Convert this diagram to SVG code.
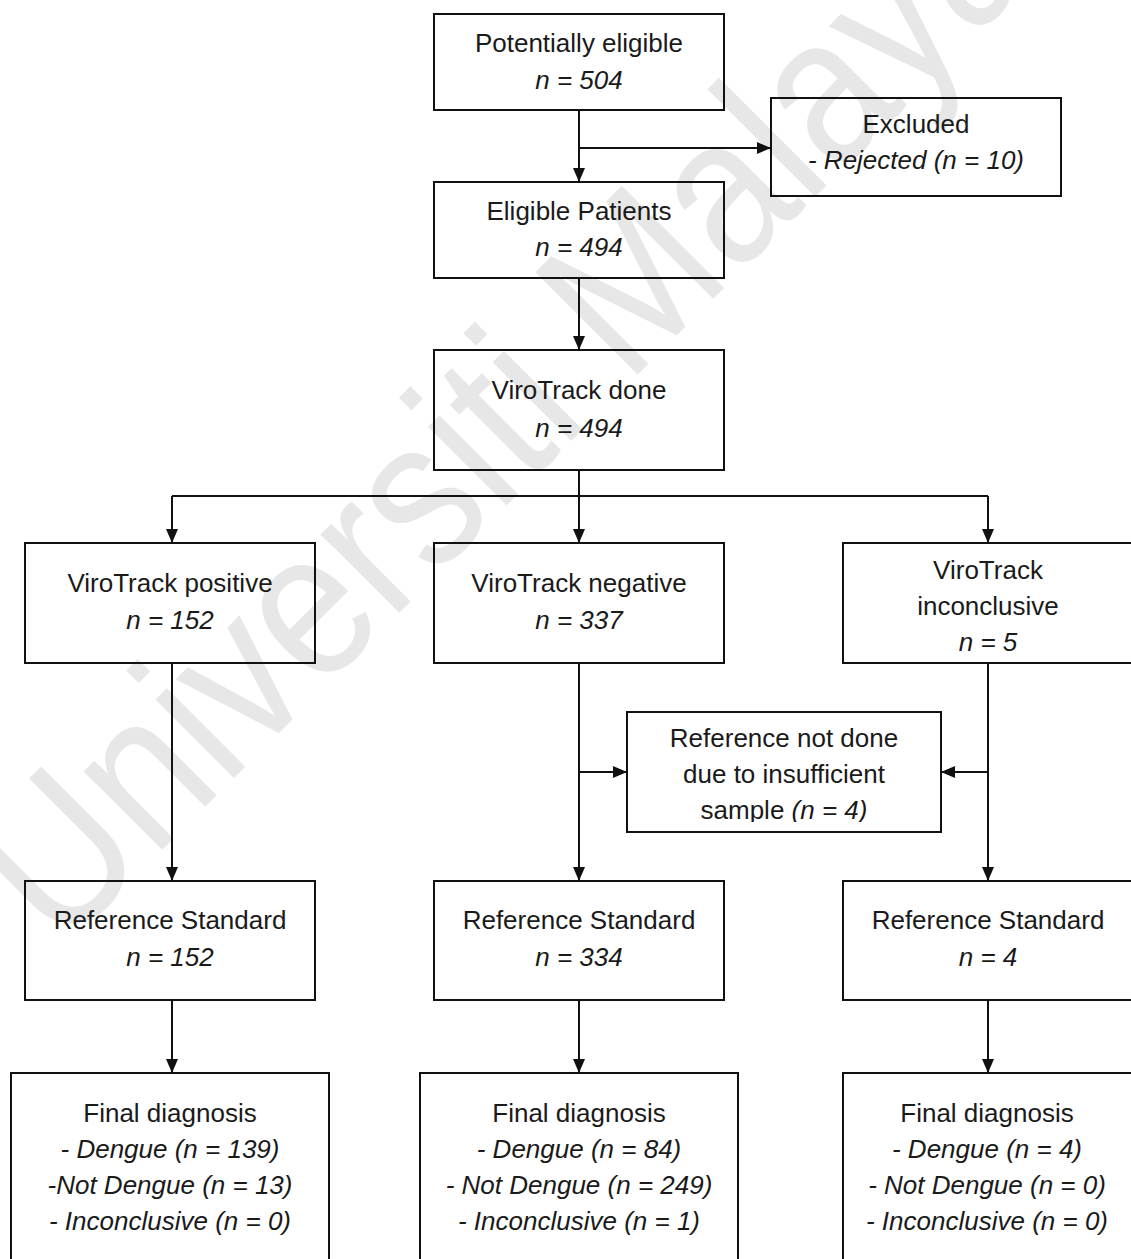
<svg xmlns="http://www.w3.org/2000/svg" width="1131" height="1259" viewBox="0 0 1131 1259">
<style>
.box{fill:none;stroke:#111;stroke-width:2}
.t{font-family:"Liberation Sans",Arial,sans-serif;font-size:26px;fill:#1a1a1a;text-anchor:middle}
.i{font-style:italic}
.c{stroke:#111;stroke-width:2;fill:none}
.wm{font-family:"Liberation Sans",Arial,sans-serif;font-size:210px;fill:#e7e7e7}
</style>
<defs>
<marker id="ah" markerUnits="userSpaceOnUse" markerWidth="14" markerHeight="12" refX="14" refY="6" orient="auto">
<path d="M0,0 L14,6 L0,12 z" fill="#111"/>
</marker>
<clipPath id="clipRef"><rect x="627" y="712" width="314" height="110"/></clipPath>
</defs>
<rect width="1131" height="1259" fill="#fff"/>
<text class="wm" x="0" y="0" transform="translate(60 952) rotate(-45) scale(0.87 1)">Universiti Malaya</text>

<g id="connectors">
<path class="c" d="M579,110 V182" marker-end="url(#ah)"/>
<path class="c" d="M579,148 H771" marker-end="url(#ah)"/>
<path class="c" d="M579,278 V350" marker-end="url(#ah)"/>
<path class="c" d="M579,470 V543" marker-end="url(#ah)"/>
<path class="c" d="M172,496 H988"/>
<path class="c" d="M172,496 V543" marker-end="url(#ah)"/>
<path class="c" d="M988,496 V543" marker-end="url(#ah)"/>
<path class="c" d="M172,663 V881" marker-end="url(#ah)"/>
<path class="c" d="M579,663 V881" marker-end="url(#ah)"/>
<path class="c" d="M579,772 H627" marker-end="url(#ah)"/>
<path class="c" d="M988,663 V881" marker-end="url(#ah)"/>
<path class="c" d="M988,772 H941" marker-end="url(#ah)"/>
<path class="c" d="M172,1000 V1073" marker-end="url(#ah)"/>
<path class="c" d="M579,1000 V1073" marker-end="url(#ah)"/>
<path class="c" d="M988,1000 V1073" marker-end="url(#ah)"/>
</g>

<g id="potentially-eligible">
<rect class="box" x="434" y="14" width="290" height="96"/>
<text class="t" x="579" y="52">Potentially eligible</text>
<text class="t i" x="579" y="89">n = 504</text>
</g>
<g id="excluded">
<rect class="box" x="771" y="98" width="290" height="98"/>
<text class="t" x="916" y="133">Excluded</text>
<text class="t i" x="916" y="169">- Rejected (n = 10)</text>
</g>
<g id="eligible-patients">
<rect class="box" x="434" y="182" width="290" height="96"/>
<text class="t" x="579" y="220">Eligible Patients</text>
<text class="t i" x="579" y="256">n = 494</text>
</g>
<g id="virotrack-done">
<rect class="box" x="434" y="350" width="290" height="120"/>
<text class="t" x="579" y="399">ViroTrack done</text>
<text class="t i" x="579" y="437">n = 494</text>
</g>
<g id="virotrack-positive">
<rect class="box" x="25" y="543" width="290" height="120"/>
<text class="t" x="170" y="592">ViroTrack positive</text>
<text class="t i" x="170" y="629">n = 152</text>
</g>
<g id="virotrack-negative">
<rect class="box" x="434" y="543" width="290" height="120"/>
<text class="t" x="579" y="592">ViroTrack negative</text>
<text class="t i" x="579" y="629">n = 337</text>
</g>
<g id="virotrack-inconclusive">
<rect class="box" x="843" y="543" width="290" height="120"/>
<text class="t" x="988" y="579">ViroTrack</text>
<text class="t" x="988" y="615">inconclusive</text>
<text class="t i" x="988" y="651">n = 5</text>
</g>
<g id="reference-not-done">
<rect class="box" x="627" y="712" width="314" height="120"/>
<g clip-path="url(#clipRef)">
<text class="t" x="784" y="747">Reference not done</text>
<text class="t" x="784" y="783">due to insufficient</text>
<text class="t" x="784" y="819">sample <tspan class="i">(n = 4)</tspan></text>
</g>
</g>
<g id="reference-standard-1">
<rect class="box" x="25" y="881" width="290" height="119"/>
<text class="t" x="170" y="929">Reference Standard</text>
<text class="t i" x="170" y="966">n = 152</text>
</g>
<g id="reference-standard-2">
<rect class="box" x="434" y="881" width="290" height="119"/>
<text class="t" x="579" y="929">Reference Standard</text>
<text class="t i" x="579" y="966">n = 334</text>
</g>
<g id="reference-standard-3">
<rect class="box" x="843" y="881" width="290" height="119"/>
<text class="t" x="988" y="929">Reference Standard</text>
<text class="t i" x="988" y="966">n = 4</text>
</g>
<g id="final-diagnosis-1">
<rect class="box" x="11" y="1073" width="318" height="200"/>
<text class="t" x="170" y="1122">Final diagnosis</text>
<text class="t i" x="170" y="1158">- Dengue (n = 139)</text>
<text class="t i" x="170" y="1194">-Not Dengue (n = 13)</text>
<text class="t i" x="170" y="1230">- Inconclusive (n = 0)</text>
</g>
<g id="final-diagnosis-2">
<rect class="box" x="420" y="1073" width="318" height="200"/>
<text class="t" x="579" y="1122">Final diagnosis</text>
<text class="t i" x="579" y="1158">- Dengue (n = 84)</text>
<text class="t i" x="579" y="1194">- Not Dengue (n = 249)</text>
<text class="t i" x="579" y="1230">- Inconclusive (n = 1)</text>
</g>
<g id="final-diagnosis-3">
<rect class="box" x="843" y="1073" width="290" height="200"/>
<text class="t" x="987" y="1122">Final diagnosis</text>
<text class="t i" x="987" y="1158">- Dengue (n = 4)</text>
<text class="t i" x="987" y="1194">- Not Dengue (n = 0)</text>
<text class="t i" x="987" y="1230">- Inconclusive (n = 0)</text>
</g>
</svg>
